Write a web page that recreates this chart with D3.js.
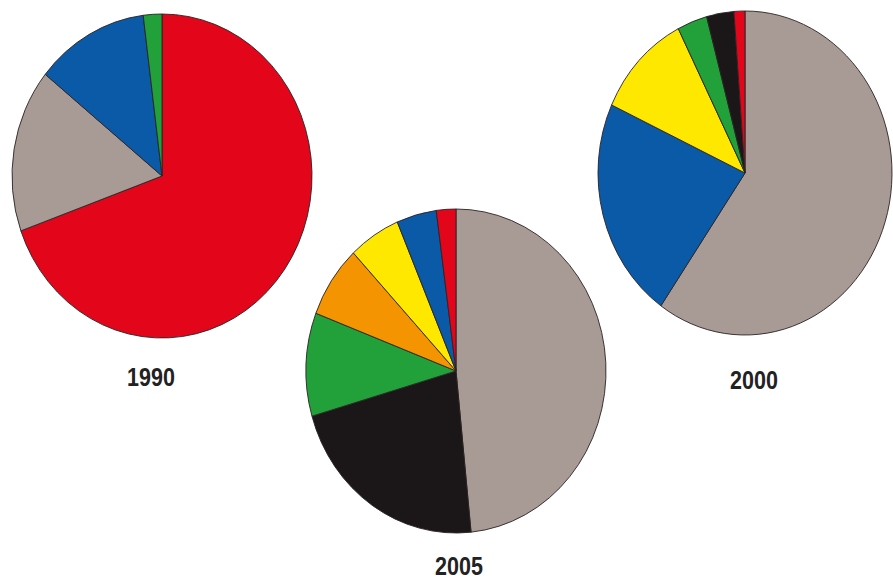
<!DOCTYPE html>
<html>
<head>
<meta charset="utf-8">
<script src="https://cdn.jsdelivr.net/npm/d3@7"></script>
<style>
  body { margin: 0; background: #fff; }
  svg { display: block; }
</style>
</head>
<body>
<script>
// shares per year, clockwise from 12 o'clock (percent)
var years = ["1990", "2000", "2005"];
var cats1990 = ["red", "gray", "blue", "green"];
var vals1990 = [69.5, 16.3, 12.2, 2.0];
var cats2000 = ["gray", "blue", "yellow", "green", "black", "red"];
var vals2000 = [59.7, 22.2, 10.6, 3.3, 3.0, 1.2];
var cats2005 = ["gray", "black", "green", "orange", "yellow", "blue", "red"];
var vals2005 = [48.4, 22.1, 10.3, 7.2, 5.6, 4.3, 2.1];

var colors = {
  red: "#e3061b",
  gray: "#a89a95",
  blue: "#0a5aa8",
  green: "#22a03a",
  yellow: "#ffe800",
  black: "#1b1719",
  orange: "#f39400"
};

var W = 893, H = 581;
var svg = d3.select("body").append("svg")
    .attr("width", W)
    .attr("height", H);

// each pie is a slightly tall ellipse
var pies = [
  { year: years[0], cats: cats1990, vals: vals1990, cx: 162, cy: 176, rx: 150, ry: 162, lx: 151, ly: 386 },
  { year: years[1], cats: cats2000, vals: vals2000, cx: 745, cy: 173, rx: 147, ry: 162, lx: 754, ly: 389 },
  { year: years[2], cats: cats2005, vals: vals2005, cx: 456, cy: 371, rx: 150, ry: 162, lx: 459, ly: 575 }
];

var pie = d3.pie().sort(null).value(function (d) { return d.v; });

pies.forEach(function (p) {
  var data = p.cats.map(function (c, i) { return { c: c, v: p.vals[i] }; });
  var arc = d3.arc().innerRadius(0).outerRadius(p.rx);
  var g = svg.append("g")
      .attr("transform", "translate(" + p.cx + "," + p.cy + ") scale(1," + (p.ry / p.rx) + ")");
  g.selectAll("path")
    .data(pie(data))
    .enter().append("path")
    .attr("d", arc)
    .attr("fill", function (d) { return colors[d.data.c]; })
    .attr("stroke", "#2a2224")
    .attr("stroke-width", 0.9)
    .attr("vector-effect", "non-scaling-stroke");

  // condensed bold label (squeeze regular bold sans horizontally)
  svg.append("text")
    .attr("transform", "translate(" + p.lx + "," + p.ly + ") scale(0.86,1)")
    .attr("text-anchor", "middle")
    .attr("font-family", "'Liberation Sans', Arial, sans-serif")
    .attr("font-weight", "bold")
    .attr("font-size", "25px")
    .attr("fill", "#222")
    .text(p.year);
});
</script>
</body>
</html>
